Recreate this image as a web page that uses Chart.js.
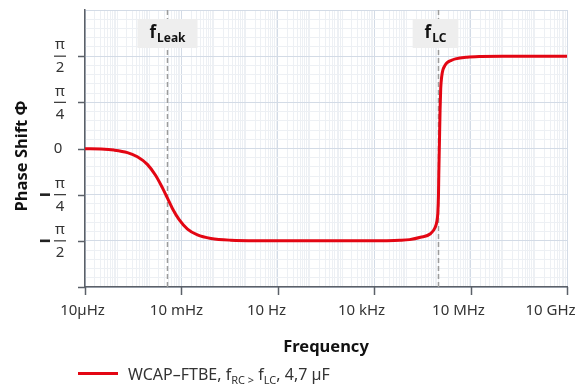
<!DOCTYPE html>
<html>
<head>
<meta charset="utf-8">
<script src="https://cdn.jsdelivr.net/npm/chart.js@4/dist/chart.umd.min.js"></script>
<style>
  html, body { margin: 0; padding: 0; background: #fff; }
  #wrap { width: 587px; height: 386px; }
</style>
</head>
<body>
<div id="wrap"><canvas id="c" width="587" height="386"></canvas></div>
<script>
// Phase of the capacitor impedance over frequency (log10 of Hz, radians)
const logFreq = [-5, -4.5, -4.1, -3.68, -3.37, -3.06, -2.8, -2.59, -2.43, -2.28, -2.07, -1.81, -1.5, -1.08, -0.46, 0.5,
                 2, 3.5, 4.3, 4.8, 5.1, 5.44, 5.75, 5.9, 5.95, 5.98, 6.0, 6.01, 6.03, 6.05, 6.07, 6.1, 6.14, 6.21, 6.27,
                 6.4, 6.53, 6.89, 7.31, 8, 9, 10];
const phase = [-0.003, -0.009, -0.027, -0.07, -0.14, -0.27, -0.46, -0.67, -0.85, -1.02, -1.21, -1.37, -1.47, -1.53, -1.56, -1.569,
               -1.5708, -1.5708, -1.568, -1.562, -1.55, -1.51, -1.45, -1.34, -1.24, -1.1, -0.8, -0.45, 0.1, 0.65, 1.02, 1.22, 1.34, 1.42, 1.46,
               1.5, 1.525, 1.553, 1.565, 1.5708, 1.5708, 1.5708];

const seriesLabel = [['WCAP\u2013FTBE, f', false], ['RC >', true], [' f', false], ['LC', true], [', 4,7 \u00b5F', false]];

const xTickValues = [1e-5, 1e-2, 1e1, 1e4, 1e7, 1e10];
const xTickLabels = ['10\u00b5Hz', '10 mHz', '10 Hz', '10 kHz', '10 MHz', '10 GHz'];

const yTickValues = [-Math.PI / 2, -Math.PI / 4, 0, Math.PI / 4, Math.PI / 2];
const yTickLabels = ['-\u03c0/2', '-\u03c0/4', '0', '\u03c0/4', '\u03c0/2'];

// characteristic frequencies marked with dashed lines
const markerFreq = [Math.pow(10, -2.455), 1e6];
const markerName = ['f', 'f'];
const markerSub = ['Leak', 'LC'];

// styling
const FONT = '"Noto Sans", "Open Sans", sans-serif';
const RED = '#e30613';
const MINOR = '#edf0f4';
const MAJOR = '#d3dbe6';
const AXIS = '#5b6068';
const xLabelShift = [-3, -5, -12, -13, -13, -17];
const markerBoxShift = [0, -3];

const points = logFreq.map((lf, i) => ({ x: Math.pow(10, lf), y: phase[i] }));

const decor = {
  id: 'decor',
  beforeDatasetsDraw(chart) {
    const { ctx, chartArea: a, scales: { x } } = chart;
    ctx.save();
    markerFreq.forEach((f, i) => {
      const px = Math.round(x.getPixelForValue(f)) + 0.5;
      ctx.setLineDash([5, 3]);
      ctx.strokeStyle = '#9c9c9c';
      ctx.lineWidth = 1.5;
      ctx.beginPath();
      ctx.moveTo(px, a.top);
      ctx.lineTo(px, a.bottom);
      ctx.stroke();
      ctx.setLineDash([]);
      ctx.font = 'bold 17px ' + FONT;
      const w1 = ctx.measureText(markerName[i]).width;
      ctx.font = 'bold 12px ' + FONT;
      const w2 = ctx.measureText(markerSub[i]).width;
      const tw = w1 + w2 + 1;
      const bw = tw + 24;
      const cx = px + markerBoxShift[i];
      ctx.fillStyle = '#eeeeee';
      ctx.fillRect(cx - bw / 2, 19, bw, 29);
      ctx.fillStyle = '#111';
      ctx.textBaseline = 'alphabetic';
      ctx.textAlign = 'left';
      ctx.font = 'bold 17px ' + FONT;
      ctx.fillText(markerName[i], cx - tw / 2, 38);
      ctx.font = 'bold 12px ' + FONT;
      ctx.fillText(markerSub[i], cx - tw / 2 + w1 + 1, 42);
    });
    ctx.restore();
  },
  afterDraw(chart) {
    const { ctx, chartArea: a, scales: { x, y } } = chart;
    ctx.save();
    ctx.strokeStyle = AXIS;
    ctx.lineWidth = 1.5;
    // x ticks and labels
    ctx.font = '15px ' + FONT;
    ctx.fillStyle = '#333';
    ctx.textAlign = 'center';
    ctx.textBaseline = 'middle';
    xTickValues.forEach((v, i) => {
      const px = Math.round(x.getPixelForValue(v)) + 0.5;
      ctx.beginPath();
      ctx.moveTo(px, a.bottom);
      ctx.lineTo(px, a.bottom + 8);
      ctx.stroke();
      ctx.fillText(xTickLabels[i], px + xLabelShift[i], a.bottom + 24);
    });
    // y ticks and fraction labels
    const yTicks = yTickValues.concat([y.min]);
    yTicks.forEach(v => {
      const py = Math.round(y.getPixelForValue(v)) + 0.5;
      ctx.beginPath();
      ctx.moveTo(a.left - 7, py);
      ctx.lineTo(a.left, py);
      ctx.stroke();
    });
    const cx = 60;
    yTickValues.forEach((v, i) => {
      const py = y.getPixelForValue(v);
      let lab = yTickLabels[i];
      ctx.fillStyle = '#333';
      ctx.font = '15px ' + FONT;
      ctx.textAlign = 'center';
      ctx.textBaseline = 'middle';
      if (lab.indexOf('/') < 0) {
        ctx.fillText(lab, cx - 2, py);
        return;
      }
      if (lab[0] === '-') {
        ctx.fillStyle = '#222';
        ctx.fillRect(40, py - 1.3, 10, 2.6);
        lab = lab.slice(1);
      }
      const [num, den] = lab.split('/');
      ctx.fillStyle = '#333';
      ctx.fillText(num, cx, py - 11);
      ctx.fillText(den, cx, py + 12);
      ctx.fillRect(cx - 6, py - 0.6, 12, 1.2);
    });
    // axis titles
    ctx.fillStyle = '#111';
    ctx.font = 'bold 16.5px ' + FONT;
    ctx.textAlign = 'center';
    ctx.textBaseline = 'middle';
    ctx.fillText('Frequency', (a.left + a.right) / 2, 347);
    ctx.save();
    ctx.translate(22, 156);
    ctx.rotate(-Math.PI / 2);
    ctx.fillText('Phase Shift \u03a6', 0, 0);
    ctx.restore();
    // legend
    ctx.strokeStyle = RED;
    ctx.lineWidth = 3;
    ctx.beginPath();
    ctx.moveTo(78, 373.5);
    ctx.lineTo(118, 373.5);
    ctx.stroke();
    ctx.fillStyle = '#333';
    ctx.textAlign = 'left';
    ctx.textBaseline = 'alphabetic';
    let tx = 128;
    seriesLabel.forEach(([t, sub]) => {
      ctx.font = (sub ? '11px ' : '16px ') + FONT;
      ctx.fillText(t, tx, sub ? 384 : 379.5);
      tx += ctx.measureText(t).width;
    });
    ctx.restore();
  }
};

new Chart(document.getElementById('c'), {
  type: 'line',
  data: {
    datasets: [{
      label: 'WCAP\u2013FTBE',
      data: points,
      borderColor: RED,
      borderWidth: 3,
      pointRadius: 0,
      fill: false,
      cubicInterpolationMode: 'monotone'
    }]
  },
  options: {
    responsive: false,
    animation: false,
    layout: { padding: { left: 85, top: 10, right: 20, bottom: 99 } },
    plugins: { legend: { display: false }, tooltip: { enabled: false } },
    scales: {
      x: {
        type: 'logarithmic',
        min: 1e-5,
        max: 1e10,
        afterBuildTicks(scale) {
          const t = [];
          for (let e = -5; e < 10; e++) {
            for (let m = 1; m <= 9; m++) t.push({ value: m * Math.pow(10, e) });
          }
          t.push({ value: 1e10 });
          scale.ticks = t;
        },
        ticks: { display: false },
        grid: {
          drawTicks: false,
          lineWidth: 1,
          color(ctx) {
            const v = ctx.tick && ctx.tick.value;
            if (!v) return MINOR;
            const e = Math.log10(v);
            const isMajor = Math.abs(e - Math.round(e)) < 1e-6 && ((Math.round(e) + 5) % 3 === 0);
            return isMajor ? MAJOR : MINOR;
          }
        },
        border: { display: true, color: AXIS, width: 1.5 }
      },
      y: {
        type: 'linear',
        min: -3 * Math.PI / 4,
        max: 3 * Math.PI / 4,
        afterBuildTicks(scale) {
          const t = [];
          for (let k = -15; k <= 15; k++) t.push({ value: k * Math.PI / 20 });
          scale.ticks = t;
        },
        ticks: { display: false },
        grid: {
          drawTicks: false,
          lineWidth: 1,
          color(ctx) {
            const v = ctx.tick ? ctx.tick.value : 0;
            const k = Math.round(v / (Math.PI / 20));
            return (k % 5 === 0) ? MAJOR : MINOR;
          }
        },
        border: { display: true, color: AXIS, width: 1.5 }
      }
    }
  },
  plugins: [decor]
});
</script>
</body>
</html>
